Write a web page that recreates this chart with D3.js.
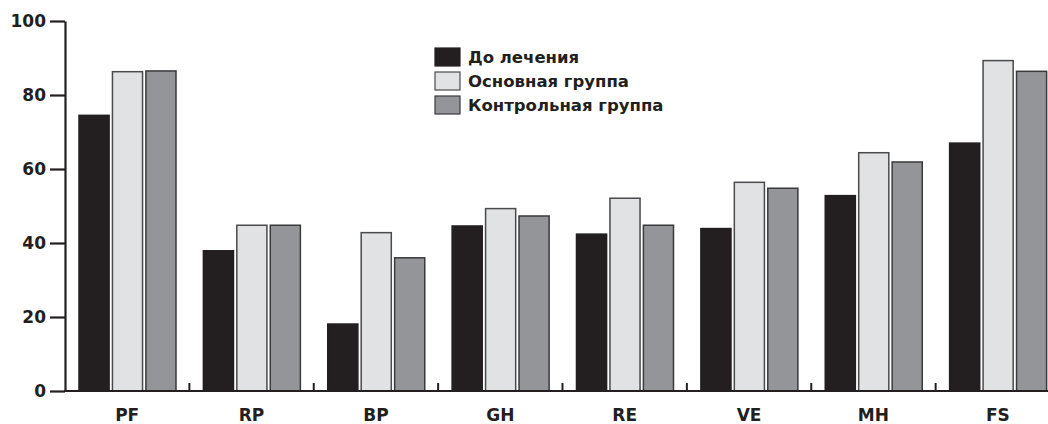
<!DOCTYPE html>
<html>
<head>
<meta charset="utf-8">
<script src="https://cdn.jsdelivr.net/npm/d3@7"></script>
<style>
	body{ margin:0; background:#fff; }
	svg text{ font-family:"DejaVu Sans", "Liberation Sans", Arial, sans-serif; font-weight:bold; fill:#231f20; }
</style>
</head>
<body>
<svg id="chart"></svg>
<script>
// scale categories (SF-36)
const categories = ["PF", "RP", "BP", "GH", "RE", "VE", "MH", "FS"];
const seriesNames = ["До лечения", "Основная группа", "Контрольная группа"];
const beforeTreatment = [74.5, 37.9, 18.1, 44.6, 42.4, 43.9, 52.8, 67.0];
const mainGroup       = [86.3, 44.8, 42.8, 49.3, 52.1, 56.4, 64.4, 89.3];
const controlGroup    = [86.5, 44.8, 36.0, 47.3, 44.8, 54.8, 61.9, 86.4];
const yTicks = [0, 20, 40, 60, 80, 100];

const fills = ["#231f20", "#e1e2e4", "#939598"];
const strokes = ["#231f20", "#4a4a4c", "#3a3a3c"];

let width = 1048, height = 424;
let svg = d3.select("#chart").attr("width", width).attr("height", height);

let rows = categories.map((c, i) => ({
	cat: c,
	vals: [beforeTreatment[i], mainGroup[i], controlGroup[i]]
}));

let x0 = d3.scaleBand().domain(categories).range([65, 1060]).padding(0);
let x1 = d3.scaleBand().domain(d3.range(3)).range([14, 111]).paddingInner(0.1);
let y = d3.scaleLinear().domain([0, 100]).range([391, 21]);

// bars
let groups = svg.selectAll("g.grp")
	.data(rows)
	.join("g")
	.classed("grp", true)
	.attr("transform", d => "translate(" + x0(d.cat) + ",0)");

groups.selectAll("rect")
	.data(d => d.vals.map((v, k) => ({v: v, k: k})))
	.join("rect")
	.attr("x", d => x1(d.k))
	.attr("y", d => y(d.v))
	.attr("width", x1.bandwidth())
	.attr("height", d => y(0) - y(d.v))
	.attr("fill", d => fills[d.k])
	.attr("stroke", d => strokes[d.k])
	.attr("stroke-width", 1.5);

// y axis
let yAxis = svg.append("g")
	.attr("transform", "translate(65,0)")
	.call(d3.axisLeft(y).tickValues(yTicks).tickSize(15).tickSizeOuter(0).tickPadding(4));
yAxis.select(".domain").attr("stroke", "#231f20").attr("stroke-width", 2.2);
yAxis.selectAll(".tick line").attr("stroke", "#231f20").attr("stroke-width", 2.2);
yAxis.selectAll(".tick text").style("font-size", "17px").attr("fill", "#231f20");

// x axis baseline + separators
svg.append("line")
	.attr("x1", 64).attr("x2", width)
	.attr("y1", y(0)).attr("y2", y(0))
	.attr("stroke", "#231f20").attr("stroke-width", 2.2);

svg.selectAll("line.sep")
	.data(categories.slice(1))
	.join("line")
	.classed("sep", true)
	.attr("x1", d => x0(d)).attr("x2", d => x0(d))
	.attr("y1", y(0)).attr("y2", y(0) - 8)
	.attr("stroke", "#231f20").attr("stroke-width", 2);

svg.selectAll("text.xlab")
	.data(categories)
	.join("text")
	.classed("xlab", true)
	.attr("x", d => x0(d) + x0.bandwidth() / 2)
	.attr("y", 421)
	.attr("text-anchor", "middle")
	.style("font-size", "17px")
	.text(d => d);

// legend
let legend = svg.selectAll("g.leg")
	.data(seriesNames)
	.join("g")
	.classed("leg", true)
	.attr("transform", (d, i) => "translate(435," + (48 + i * 24) + ")");

legend.append("rect")
	.attr("width", 25).attr("height", 18)
	.attr("fill", (d, i) => fills[i])
	.attr("stroke", (d, i) => strokes[i])
	.attr("stroke-width", 1.2);

legend.append("text")
	.attr("x", 33).attr("y", 15)
	.style("font-size", "16.5px")
	.text(d => d);
</script>
</body>
</html>
